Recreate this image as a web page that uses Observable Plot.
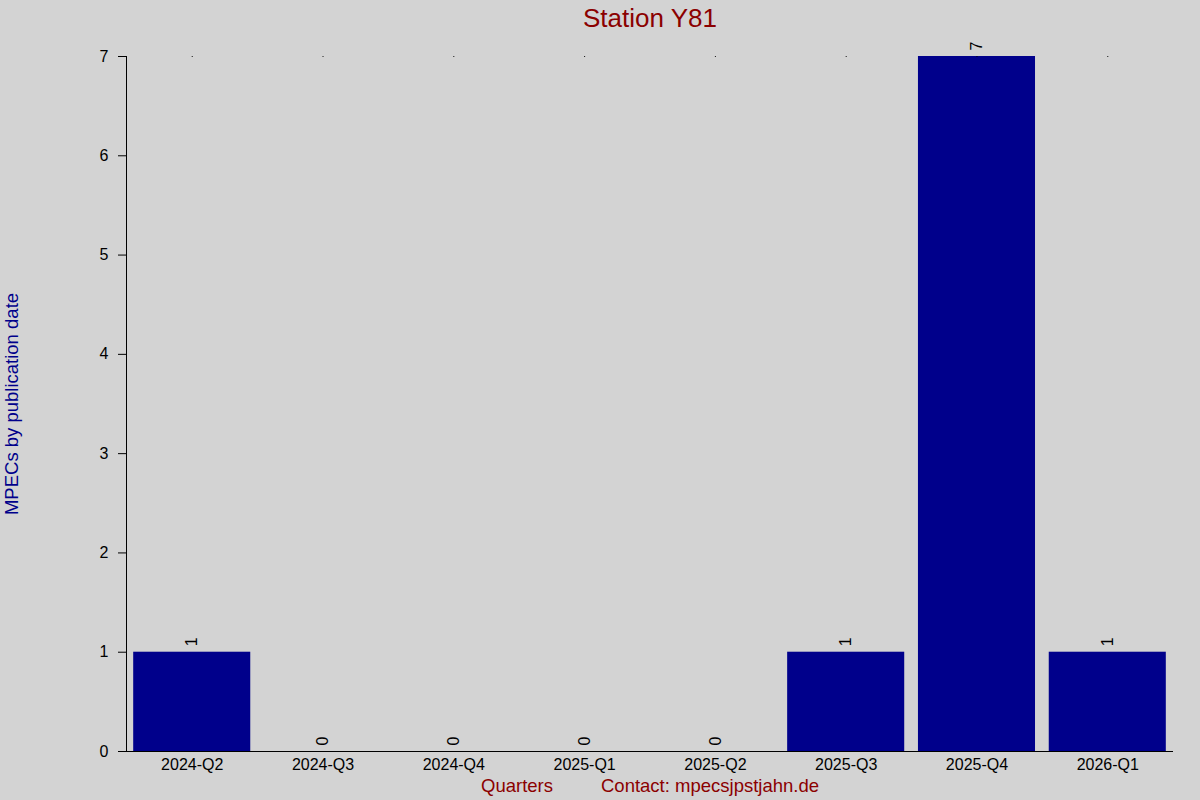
<!DOCTYPE html>
<html>
<head>
<meta charset="utf-8">
<script src="https://cdn.jsdelivr.net/npm/d3@7"></script>
<script src="https://cdn.jsdelivr.net/npm/@observablehq/plot@0.6"></script>
<style>
  html, body { margin: 0; padding: 0; background: #d3d3d3; }
  #chart svg { display: block; }
</style>
</head>
<body>
<div id="chart"></div>
<script>
const quarters = ["2024-Q2","2024-Q3","2024-Q4","2025-Q1","2025-Q2","2025-Q3","2025-Q4","2026-Q1"];
const counts = [1, 0, 0, 0, 0, 1, 7, 1];
const yTicks = [0, 1, 2, 3, 4, 5, 6, 7];
const titleText = "Station Y81";
const yLabel = "MPECs by publication date";
const xLabel = "Quarters";
const contactText = "Contact: mpecsjpstjahn.de";

const data = quarters.map((q, i) => ({quarter: q, count: counts[i]}));

const chart = Plot.plot({
  width: 1200,
  height: 800,
  marginTop: 56,
  marginBottom: 49,
  marginLeft: 126,
  marginRight: 27,
  style: {background: "#d3d3d3", fontFamily: "'Liberation Sans', Arial, sans-serif", fontSize: "16px", color: "black"},
  x: {domain: quarters, paddingInner: 0.105, paddingOuter: 0.055, round: false, label: null},
  y: {domain: [0, 7], label: null},
  marks: [
    Plot.barY(data, {x: "quarter", y: "count", fill: "#00008b"}),
    Plot.dot(quarters, {x: d => d, y: () => 7, r: 0.6, fill: "black", stroke: null}),
    Plot.text(data, {x: "quarter", y: "count", text: d => String(d.count), rotate: -90, textAnchor: "start", dy: -6, fontSize: 16, fill: "black"}),
    Plot.axisY({ticks: yTicks, tickFormat: "d", tickSize: 8, tickPadding: 10, fontSize: 16, label: null}),
    Plot.axisX({tickSize: 0, tickPadding: 7, fontSize: 16, label: null}),
    Plot.frame({anchor: "left"}),
    Plot.ruleY([0], {stroke: "black", insetLeft: -8}),
    Plot.text([titleText], {frameAnchor: "top", lineAnchor: "middle", dy: -38, fontSize: 26, fill: "#8b0000"}),
    Plot.text([yLabel], {frameAnchor: "left", textAnchor: "middle", lineAnchor: "middle", dx: -114, rotate: -90, fontSize: 18.5, fill: "#00008b"}),
    Plot.text([xLabel], {frameAnchor: "bottom", lineAnchor: "middle", dy: 35, dx: -133, fontSize: 18.5, fill: "#8b0000"}),
    Plot.text([contactText], {frameAnchor: "bottom", lineAnchor: "middle", dy: 35, dx: 60, fontSize: 18.5, fill: "#8b0000"})
  ]
});
document.getElementById("chart").appendChild(chart);
</script>
</body>
</html>
